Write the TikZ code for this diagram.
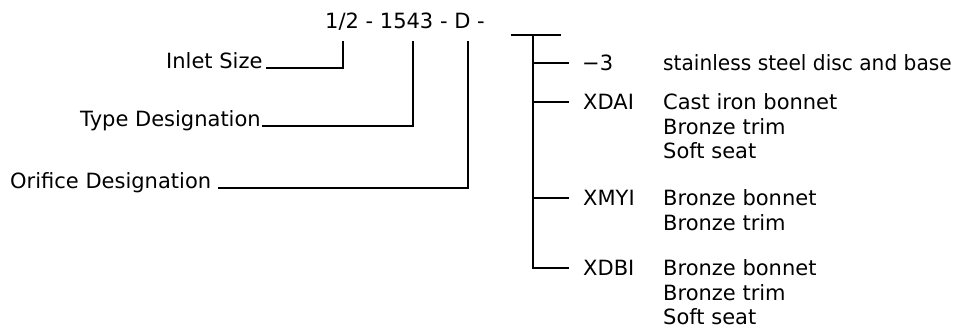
\documentclass[tikz,border=0pt]{standalone}
\usepackage{fontspec}
\setmainfont{DejaVu Sans}
\begin{document}
\begin{tikzpicture}[x=1pt,y=-1pt,
  every node/.style={inner sep=0pt, font=\fontsize{21}{24}\selectfont},
  lab/.style={anchor=base west},
  lead/.style={line width=1.7pt, line cap=rect}]
\useasboundingbox (0,0) rectangle (956,332);
% title
\node[lab] (title) at (325,28) {1/2 - 1543 - D -};
\coordinate (t1) at (343,42);
\coordinate (t2) at (413,42);
\coordinate (t3) at (468,42);
% left labels
\node[lab] (inlet) at (166,68) {Inlet Size};
\node[lab] (type) at (80,126) {Type Designation};
\node[lab] (orifice) at (10,188) {Orifice Designation};
\draw[lead] ([xshift=4pt]inlet.base east) -| (t1);
\draw[lead] ([xshift=2pt]type.base east) -| (t2);
\draw[lead] ([xshift=7pt]orifice.base east) -| (t3);
% tree
\coordinate (tl) at (512,35);
\coordinate (tr) at (560,35);
\coordinate (top) at (533,35);
\coordinate (bx) at (568,0);
\draw[lead] (tl) -- (tr);
% codes
\node[lab] (c1) at (582,70.6) {−3};
\node[lab] (c2) at (583,109.6) {XDAI};
\node[lab] (c3) at (583,205.6) {XMYI};
\node[lab] (c4) at (583,275.6) {XDBI};
% descriptions
\node[lab] (d1) at (663,70.6) {\scalebox{0.96}[1]{stainless steel disc and base}};
\node[lab] (d2a) at (663,109.6) {Cast iron bonnet};
\node[lab] (d2b) at (663,134.1) {Bronze trim};
\node[lab] (d2c) at (663,158.6) {Soft seat};
\node[lab] (d3a) at (663,205.6) {Bronze bonnet};
\node[lab] (d3b) at (663,230.1) {Bronze trim};
\node[lab] (d4a) at (663,275.6) {Bronze bonnet};
\node[lab] (d4b) at (663,300.1) {Bronze trim};
\node[lab] (d4c) at (663,324.6) {Soft seat};
% branches
\draw[lead] (top) |- (c4.west -| bx);
\draw[lead] (c1.west -| top) -- (c1.west -| bx);
\draw[lead] (c2.west -| top) -- (c2.west -| bx);
\draw[lead] (c3.west -| top) -- (c3.west -| bx);
\end{tikzpicture}
\end{document}
